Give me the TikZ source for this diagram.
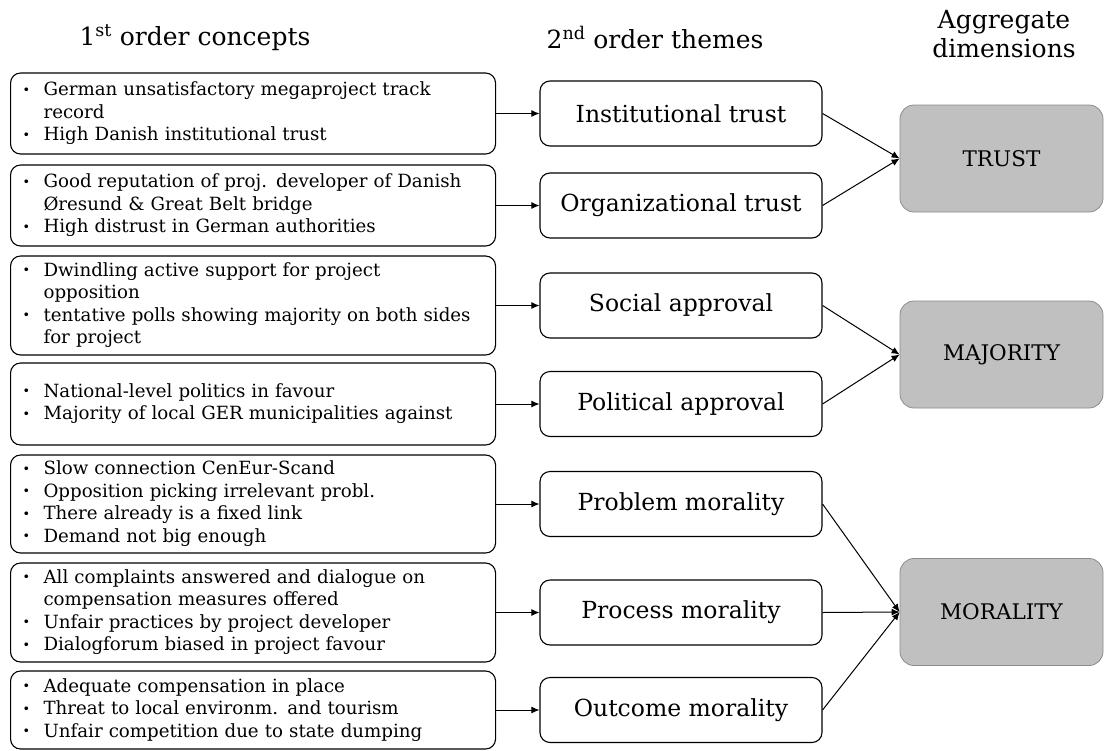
\documentclass[tikz,border=0pt]{standalone}
\usepackage{fontspec}
\setmainfont{DejaVu Serif}
\usetikzlibrary{arrows.meta}

% bullet list laid out as a two-column table: bullet, then text
\newcommand{\bu}{\raisebox{0.15ex}{\scalebox{0.7}{\textbullet}}}
\newcommand{\blist}[1]{\begin{tabular}{@{}p{21pt}@{}l@{}}#1\end{tabular}}

\tikzset{
  lbox/.style={draw, line width=1.1pt, rounded corners=10pt, anchor=west,
    text width=461pt, inner xsep=12pt, inner ysep=0pt, align=left,
    font=\fontsize{18.2}{22.5}\selectfont},
  mbox/.style={draw, line width=1.1pt, rounded corners=10pt,
    minimum width=282pt, minimum height=65pt,
    font=\fontsize{23.5}{28}\selectfont},
  gbox/.style={draw={rgb,255:red,140;green,140;blue,140}, line width=0.8pt,
    fill={rgb,255:red,192;green,192;blue,192}, rounded corners=14pt,
    minimum width=203pt, minimum height=107pt,
    font=\fontsize{21.5}{25}\selectfont},
  head/.style={font=\fontsize{25}{29}\selectfont, align=center},
  arr/.style={line width=1pt, -{Latex[length=8pt,width=7pt]}},
}

\begin{document}
\begin{tikzpicture}[x=1pt, y=-1pt]
\useasboundingbox (0,0) rectangle (1105,750);

% column headings
\node[head] (h1) at (195,38) {1\textsuperscript{st} order concepts};
\node[head] (h2) at (655,38) {2\textsuperscript{nd} order themes};
\node[head] (h3) at (1004,34) {Aggregate\\dimensions};

% first-order concepts
\node[lbox, minimum height=81pt] (l1) at (10,113.5) {\blist{%
  \bu & German unsatisfactory megaproject track\\
      & record\\
  \bu & High Danish institutional trust}};
\node[lbox, minimum height=81pt] (l2) at (10,205.5) {\blist{%
  \bu & Good reputation of proj. developer of Danish\\
      & Øresund \& Great Belt bridge\\
  \bu & High distrust in German authorities}};
\node[lbox, minimum height=99pt] (l3) at (10,305.5) {\blist{%
  \bu & Dwindling active support for project\\
      & opposition\\
  \bu & tentative polls showing majority on both sides\\
      & for project}};
\node[lbox, minimum height=82pt] (l4) at (10,404) {\blist{%
  \bu & National-level politics in favour\\
  \bu & Majority of local GER municipalities against}};
\node[lbox, minimum height=98pt] (l5) at (10,504) {\blist{%
  \bu & Slow connection CenEur-Scand\\
  \bu & Opposition picking irrelevant probl.\\
  \bu & There already is a fixed link\\
  \bu & Demand not big enough}};
\node[lbox, minimum height=99pt] (l6) at (10,612.5) {\blist{%
  \bu & All complaints answered and dialogue on\\
      & compensation measures offered\\
  \bu & Unfair practices by project developer\\
  \bu & Dialogforum biased in project favour}};
\node[lbox, minimum height=78pt] (l7) at (10,710) {\blist{%
  \bu & Adequate compensation in place\\
  \bu & Threat to local environm. and tourism\\
  \bu & Unfair competition due to state dumping}};

% second-order themes
\node[mbox] (m1) at (681,113.5) {Institutional trust};
\node[mbox] (m2) at (681,205.5) {Organizational trust};
\node[mbox] (m3) at (681,305.5) {Social approval};
\node[mbox] (m4) at (681,404) {Political approval};
\node[mbox] (m5) at (681,504) {Problem morality};
\node[mbox] (m6) at (681,612.5) {Process morality};
\node[mbox] (m7) at (681,710) {Outcome morality};

% aggregate dimensions
\node[gbox] (g1) at (1001.5,158.5) {TRUST};
\node[gbox] (g2) at (1001.5,354.5) {MAJORITY};
\node[gbox] (g3) at (1001.5,612) {MORALITY};

% concepts to themes
\foreach \i in {1,...,7}
  \draw[arr] (l\i.east) -- (m\i.west);

% themes to dimensions
\draw[arr] (m1.east) -- (g1.west);
\draw[arr] (m2.east) -- (g1.west);
\draw[arr] (m3.east) -- (g2.west);
\draw[arr] (m4.east) -- (g2.west);
\draw[arr] (m5.east) -- (g3.west);
\draw[arr] (m6.east) -- (g3.west);
\draw[arr] (m7.east) -- (g3.west);
\end{tikzpicture}
\end{document}
